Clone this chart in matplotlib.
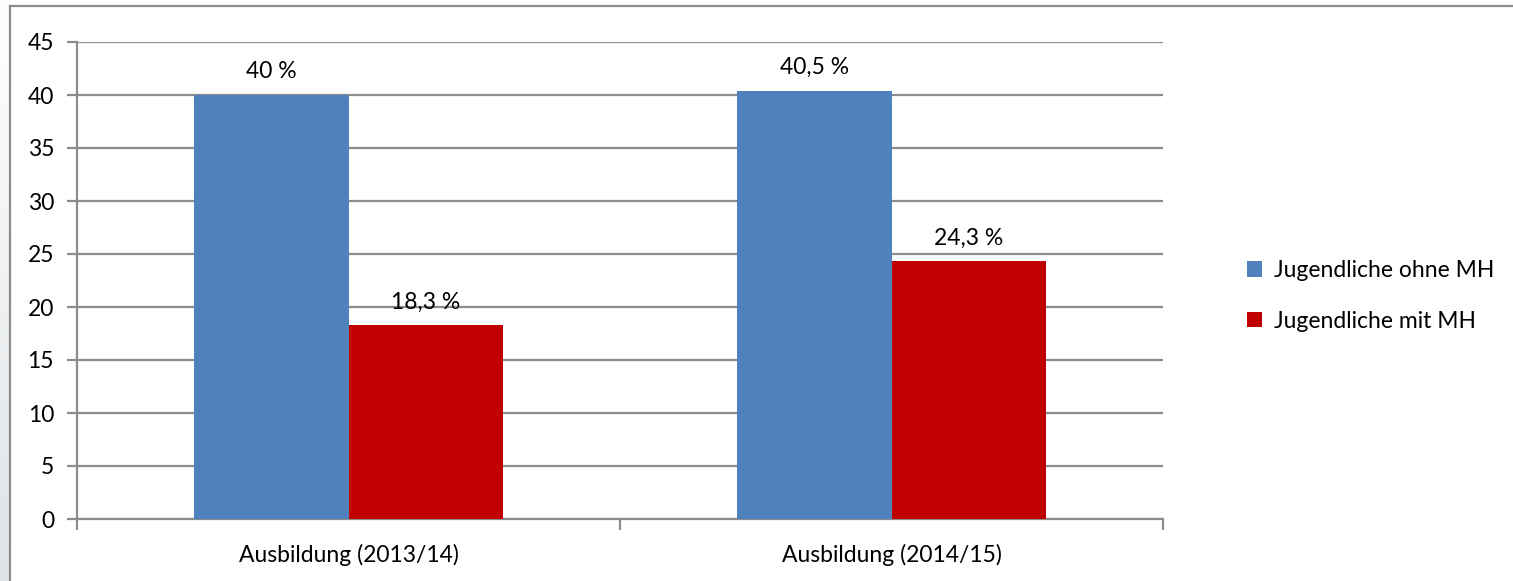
import matplotlib
matplotlib.use("Agg")
import matplotlib.pyplot as plt
import numpy as np
from matplotlib.lines import Line2D

categories = ["Ausbildung (2013/14)", "Ausbildung (2014/15)"]
series_names = ["Jugendliche ohne MH", "Jugendliche mit MH"]
ohne_mh = [40.0, 40.4]
mit_mh = [18.3, 24.3]
labels_ohne = ["40 %", "40,5 %"]
labels_mit = ["18,3 %", "24,3 %"]
yticks = [0, 5, 10, 15, 20, 25, 30, 35, 40, 45]

W, H = 1513, 581
FS = 16.5
plt.rcParams['font.family'] = ['Lato', 'DejaVu Sans']
fig = plt.figure(figsize=(W / 100, H / 100), dpi=100)
fig.patch.set_facecolor("white")

# left gradient strip
gax = fig.add_axes([0, 0, 9 / W, 1])
grad = np.linspace(0, 1, 256).reshape(-1, 1)
gax.imshow(grad, aspect="auto", cmap=matplotlib.colors.LinearSegmentedColormap.from_list(
    "g", ["#dfe3e6", "#ffffff"]), extent=[0, 1, 0, 1], origin="lower")
gax.axis("off")

# chart frame
fig.add_artist(Line2D([10 / W, 10 / W], [0, 1 - 6 / H], transform=fig.transFigure,
                      color="#8c8c8c", lw=1.6))
fig.add_artist(Line2D([10 / W, 1], [1 - 6 / H, 1 - 6 / H], transform=fig.transFigure,
                      color="#8c8c8c", lw=1.6))

ax = fig.add_axes([77 / W, 1 - 519 / H, (1163 - 77) / W, (519 - 42) / H])
x = np.arange(len(categories))
bw = 0.285
blue = "#4f81bd"
red = "#c00000"
b1 = ax.bar(x - bw / 2, ohne_mh, bw, color=blue, label=series_names[0], zorder=3)
b2 = ax.bar(x + bw / 2, mit_mh, bw, color=red, label=series_names[1], zorder=3)

for bars, labs in ((b1, labels_ohne), (b2, labels_mit)):
    for rect, lab in zip(bars, labs):
        ax.annotate(lab, (rect.get_x() + rect.get_width() / 2, rect.get_height()),
                    xytext=(0, 9), textcoords="offset points", ha="center", va="bottom",
                    fontsize=FS)

ax.set_xlim(-0.5, 1.5)
ax.set_ylim(0, 45)
ax.set_yticks(yticks)
ax.set_yticklabels([str(v) for v in yticks], fontsize=FS)
ax.yaxis.grid(True, color="#8c8c8c", lw=1.6, zorder=0)
ax.set_axisbelow(True)

ax.set_xticks([-0.5, 0.5, 1.5])
ax.set_xticklabels([])
ax.set_xticks(x, minor=True)
ax.set_xticklabels(categories, minor=True, fontsize=FS)
ax.tick_params(axis="x", which="minor", length=0, pad=18)
ax.tick_params(axis="x", which="major", length=8, width=1.6, color="#8c8c8c", direction="out")
ax.tick_params(axis="y", length=7.5, width=1.6, color="#8c8c8c", direction="out", pad=9)

for s in ["top", "right"]:
    ax.spines[s].set_visible(False)
ax.spines["left"].set_color("#8c8c8c")
ax.spines["left"].set_linewidth(1.6)
ax.spines["bottom"].set_color("#8c8c8c")
ax.spines["bottom"].set_linewidth(1.6)
ax.patch.set_alpha(0)

fig.legend(handles=[b1, b2], labels=series_names, loc="center left",
           bbox_to_anchor=(1226 / W, 1 - 296 / H), frameon=False, fontsize=FS,
           handlelength=0.65, handleheight=0.65, handletextpad=0.55, labelspacing=1.3)

fig.savefig("out.png", dpi=100, facecolor="white")
